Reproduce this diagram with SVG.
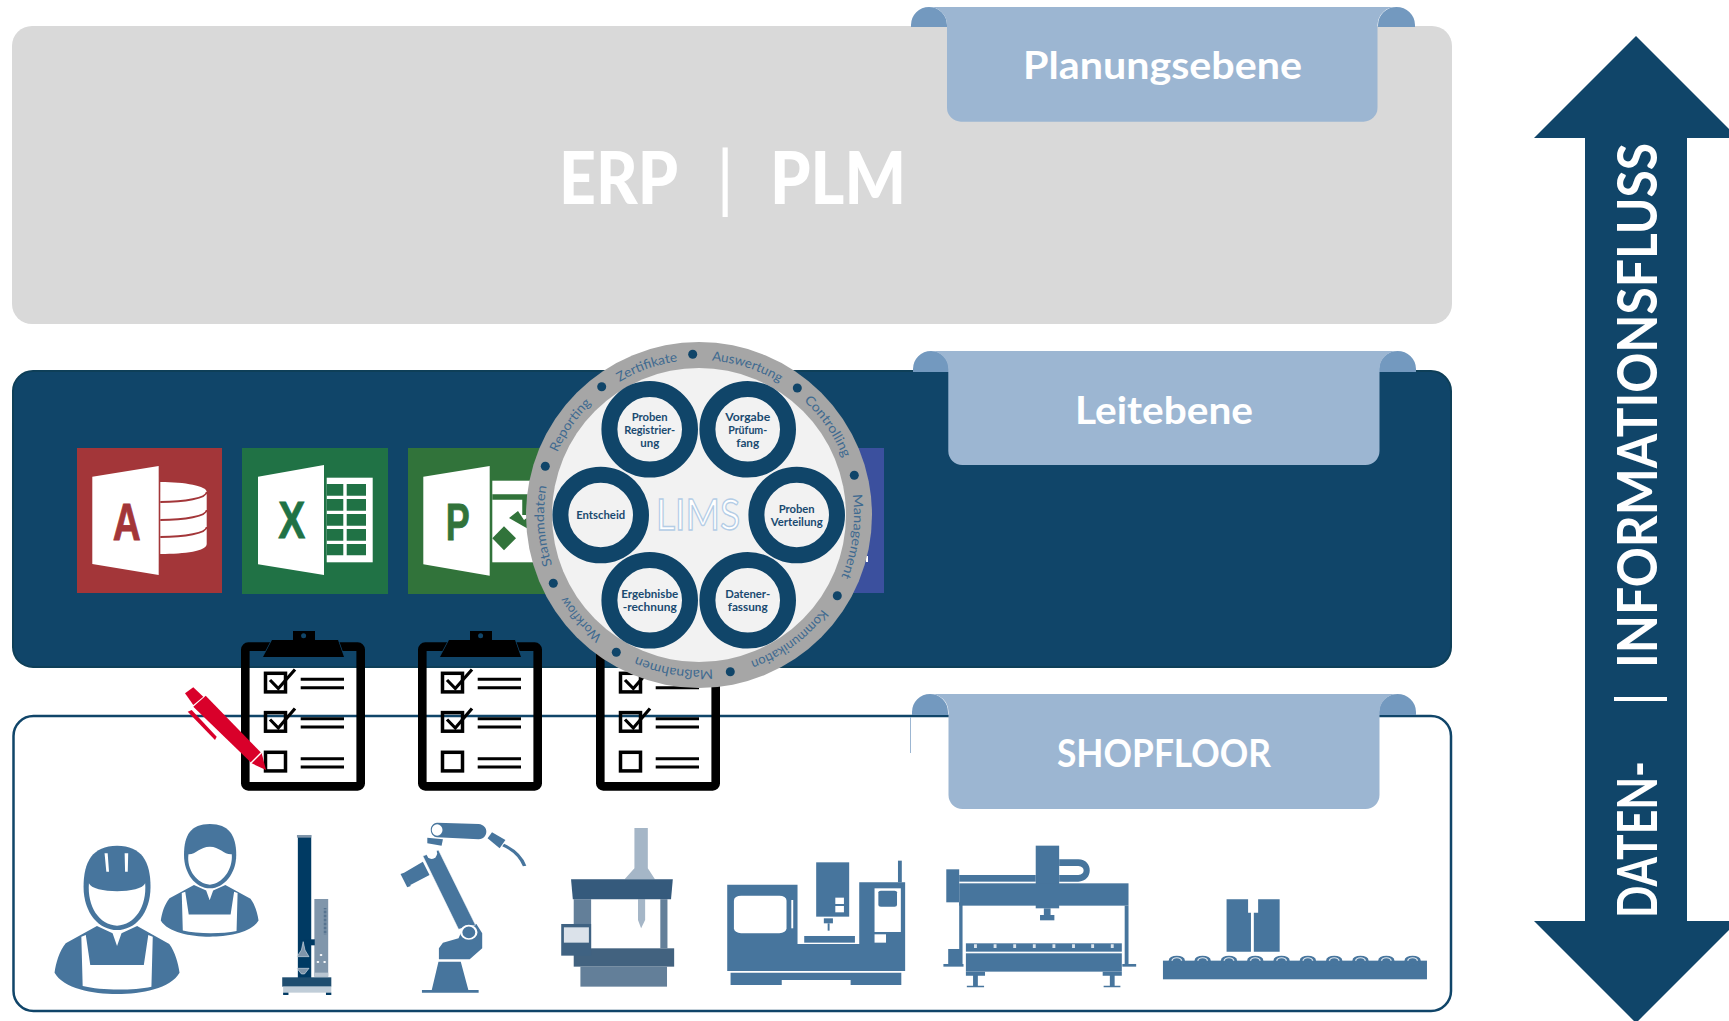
<svg xmlns="http://www.w3.org/2000/svg" xmlns:xlink="http://www.w3.org/1999/xlink" width="1729" height="1021" viewBox="0 0 1729 1021">
<style>
text{font-family:"Lato","Liberation Sans",sans-serif}
.ban{fill:#9cb6d2}.ear{fill:#7399bf}
.bt{fill:#fff;font-weight:700;font-size:38px;text-anchor:middle}
.ic{fill:#47759d}.w{fill:#fff}
.hub{fill:#f2f2f2;stroke:#104569;stroke-width:16}
.hl{fill:#1a4a70;font-weight:700;font-size:10.5px;text-anchor:middle}
.rl{fill:#3f6a90;font-size:13px;text-anchor:middle}
.dot{fill:#104569}
.lg{font-family:"Liberation Sans",sans-serif;font-weight:700;font-size:52px;text-anchor:middle;stroke-width:.8}
.bk{fill:none;stroke:#000;stroke-width:3.5}
.ck{fill:none;stroke:#000;stroke-width:3.2}
.ln{stroke:#000;stroke-width:3}
</style>
<defs>
<path id="rp" d="M699,360 A155,155 0 1 1 698.99,360 Z"/>
<path id="wbody" d="M150,378 L80,430 C65,455 58,490 55,518 C75,565 140,582 195,582 C250,582 315,565 335,518 C332,490 325,455 312,432 L240,378 L205,400 L195,438 L185,400 Z M115,410 L125,405 L135,495 L255,495 L265,405 L275,410 L272,560 C230,572 160,572 118,558 Z" fill-rule="evenodd"/>
<g id="bump"><ellipse cx="0" cy="482" rx="17" ry="15"/><path d="M-10,482 a10,9 0 0 1 20,0" fill="none" stroke="#dbe4ec" stroke-width="3"/></g>
<g id="clip">
<rect x="245.3" y="646.6" width="115.4" height="139.8" rx="3" fill="none" stroke="#000" stroke-width="8.6"/>
<path d="M263,657 L272,640 L293,640 L293,631 L315,631 L315,640 L338,640 L344,657 Z" fill="#000" stroke="#104569" stroke-width="1.5" stroke-linejoin="round"/>
<path d="M263,657 L272,640 L293,640 L293,631 L315,631 L315,640 L338,640 L344,657 Z" fill="#000"/>
<circle cx="303.6" cy="635.7" r="2.5" fill="#104569"/>
<rect class="bk" x="265.5" y="673.3" width="20" height="18.6"/>
<path class="ck" d="M270,680 L278.3,688.5 L295,669.5"/>
<path class="ln" d="M300.7,679.3H344M300.7,687.7H344"/>
<rect class="bk" x="265.5" y="712.6" width="20" height="18.6"/>
<path class="ck" d="M270,719.5 L278.3,728 L295,708.5"/>
<path class="ln" d="M300.7,718.7H344M300.7,727H344"/>
<rect class="bk" x="265.5" y="752.3" width="20" height="18.6"/>
<path class="ln" d="M300.7,758.7H344M300.7,767H344"/>
</g>
</defs>

<g id="planungsebene">
<rect x="12" y="26" width="1440" height="298" rx="20" fill="#d9d9d9"/>
<text y="204" fill="#fff" font-size="73" font-weight="900"><tspan x="559" textLength="119" lengthAdjust="spacingAndGlyphs">ERP</tspan><tspan x="716" font-weight="400">|</tspan><tspan x="770" textLength="136" lengthAdjust="spacingAndGlyphs">PLM</tspan></text>
<path class="ear" d="M911,27 V25 A18,18 0 0 1 947,25 V27 Z M1378,27 V25 A18.500,18 0 0 1 1415,25 V27 Z"/>
<path class="ban" d="M929,7 H1397 A18.500,18 0 0 0 1377.500,25 V107.700 A14,14 0 0 1 1363.500,121.700 H961 A14,14 0 0 1 947,107.700 V25 A18,18 0 0 0 929,7 Z"/>
<text class="bt" x="1162.500" y="79" textLength="279" lengthAdjust="spacingAndGlyphs">Planungsebene</text>
</g>

<g id="leitebene">
<rect x="13" y="371" width="1438" height="296" rx="20" fill="#104569" stroke="#0e3f58" stroke-width="2"/>
<path class="ear" d="M913,372 V369 A18,18 0 0 1 949,369 V372 Z M1379,372 V369 A18.500,18 0 0 1 1416,369 V372 Z"/>
<path class="ban" d="M931,351 H1398 A18.500,18 0 0 0 1379.500,369 V451 A14,14 0 0 1 1365.500,465 H962.300 A14,14 0 0 1 948.300,451 V369 A18,18 0 0 0 931,351 Z"/>
<text class="bt" x="1164" y="423.500" textLength="178" lengthAdjust="spacingAndGlyphs">Leitebene</text>
</g>

<g id="shopfloor">
<rect x="13.500" y="716" width="1437.500" height="295" rx="20" fill="#fff" stroke="#104569" stroke-width="2.500"/>
<path d="M910.500,717V753" stroke="#9cb6d2" stroke-width="1" fill="none"/>
<path class="ear" d="M912,715 V712 A18,18 0 0 1 948,712 V715 Z M1379,715 V712 A18.500,18 0 0 1 1416,712 V715 Z"/>
<path class="ban" d="M930,694 H1398 A18.500,18 0 0 0 1379.500,712 V795 A14,14 0 0 1 1365.500,809 H962.500 A14,14 0 0 1 948.500,795 V712 A18,18 0 0 0 930,694 Z"/>
<text class="bt" x="1164" y="767" textLength="214" lengthAdjust="spacingAndGlyphs">SHOPFLOOR</text>
</g>

<g id="app-access">
<rect x="77" y="448" width="145" height="145" fill="#a33639"/>
<path class="w" d="M92.300,476.700 L158.700,466 V575 L92.300,564 Z"/>
<text class="lg" x="126.700" y="540" fill="#a33639" stroke="#a33639" textLength="28" lengthAdjust="spacingAndGlyphs">A</text>
<path class="w" d="M160.300,482 C185,482 206.700,486 206.700,492 V544 C206.700,551 185,554 160.300,554 Z"/>
<path d="M160.300,502 C185,502 206.700,498 206.700,492 M160.300,520 C185,520 206.700,516 206.700,510 M160.300,537 C185,537 206.700,533 206.700,527" fill="none" stroke="#a33639" stroke-width="1.800"/>
</g>

<g id="app-excel">
<rect x="242" y="448" width="146" height="146" fill="#207245"/>
<path class="w" d="M258,476.700 L324,465 V575 L258,564.300 Z"/>
<text class="lg" x="291.700" y="538" fill="#207245" stroke="#207245" textLength="27" lengthAdjust="spacingAndGlyphs">X</text>
<rect class="w" x="326.700" y="477.700" width="46" height="84.600"/>
<path fill="#207245" d="M326.700,484H343.300V495.700H326.700ZM346.700,484H366V495.700H346.700ZM326.700,499H343.300V510.700H326.700ZM346.700,499H366V510.700H346.700ZM326.700,514H343.300V525.700H326.700ZM346.700,514H366V525.700H346.700ZM326.700,529H343.300V540.700H326.700ZM346.700,529H366V540.700H346.700ZM326.700,544H343.300V555.300H326.700ZM346.700,544H366V555.300H346.700Z"/>
</g>

<g id="app-project">
<rect x="408" y="448" width="146" height="146" fill="#31733a"/>
<path class="w" d="M423.300,476.700 L489.700,466 V575.700 L423.300,564.300 Z"/>
<text class="lg" x="457.700" y="540" fill="#31733a" stroke="#31733a" textLength="24" lengthAdjust="spacingAndGlyphs">P</text>
<rect class="w" x="492.300" y="480.700" width="50" height="81.600"/>
<path d="M492.300,497H525V515" fill="none" stroke="#31733a" stroke-width="5.500"/>
<path d="M509,518 L518,511 L524,520 L532,514 L530,530 Z" fill="#31733a"/>
<path d="M504,526.300 L516,538.300 L504,550.300 L492.300,538.300 Z" fill="#31733a"/>
</g>

<g id="app-word">
<rect x="738" y="448" width="146" height="145" fill="#3b509e"/>
<rect class="w" x="866" y="556" width="2" height="6"/>
</g>

<g id="clipboards">
<use xlink:href="#clip"/>
<use xlink:href="#clip" x="177"/>
<use xlink:href="#clip" x="355"/>
</g>

<g id="pen" fill="#d9002a">
<path d="M205.700,695.700 L261.700,753.300 L266,770 L251.700,763.300 L193.300,706.700 Z"/>
<path d="M185,693.300 L193.300,687.300 L203.300,696.700 L193.300,705 Z"/>
<path d="M187.700,711.700 L191.700,710 L216.700,736.700 L215,740 Z"/>
<path d="M262,752 L251,763" stroke="#fff" stroke-width="1.500" fill="none"/>
</g>

<g id="lims">
<circle cx="699" cy="515" r="173" fill="#a6a6a6"/>
<circle cx="699" cy="515" r="147" fill="#f2f2f2"/>
<g class="dot-ring">
<circle class="dot" cx="692.700" cy="354.300" r="4.500"/>
<circle class="dot" cx="797.300" cy="388" r="4.500"/>
<circle class="dot" cx="854.300" cy="475.300" r="4.500"/>
<circle class="dot" cx="837.300" cy="595.700" r="4.500"/>
<circle class="dot" cx="730.300" cy="671.700" r="4.500"/>
<circle class="dot" cx="616.300" cy="652.300" r="4.500"/>
<circle class="dot" cx="553.300" cy="583.300" r="4.500"/>
<circle class="dot" cx="545.300" cy="466.300" r="4.500"/>
<circle class="dot" cx="601.700" cy="386.700" r="4.500"/>
</g>
<text class="rl"><textPath xlink:href="#rp" startOffset="94.600%" textLength="62" lengthAdjust="spacingAndGlyphs">Zertifikate</textPath></text>
<text class="rl"><textPath xlink:href="#rp" startOffset="5%" textLength="72" lengthAdjust="spacingAndGlyphs">Auswertung</textPath></text>
<text class="rl"><textPath xlink:href="#rp" startOffset="15.400%" textLength="70" lengthAdjust="spacingAndGlyphs">Controlling</textPath></text>
<text class="rl"><textPath xlink:href="#rp" startOffset="27.200%" textLength="84" lengthAdjust="spacingAndGlyphs">Management</textPath></text>
<text class="rl"><textPath xlink:href="#rp" startOffset="40%" textLength="90" lengthAdjust="spacingAndGlyphs">Kommunikation</textPath></text>
<text class="rl"><textPath xlink:href="#rp" startOffset="52.600%" textLength="78" lengthAdjust="spacingAndGlyphs">Maßnahmen</textPath></text>
<text class="rl"><textPath xlink:href="#rp" startOffset="63.500%" textLength="54" lengthAdjust="spacingAndGlyphs">Workflow</textPath></text>
<text class="rl"><textPath xlink:href="#rp" startOffset="73.900%" textLength="80" lengthAdjust="spacingAndGlyphs">Stammdaten</textPath></text>
<text class="rl"><textPath xlink:href="#rp" startOffset="84.700%" textLength="60" lengthAdjust="spacingAndGlyphs">Reporting</textPath></text>
<text x="698" y="530" font-size="43" text-anchor="middle" textLength="84" lengthAdjust="spacingAndGlyphs" fill="#fff" stroke="#b4cde6" stroke-width="1.400">LIMS</text>
<circle class="hub" cx="649.700" cy="429.300" r="40.300"/>
<circle class="hub" cx="747.700" cy="429.300" r="40.300"/>
<circle class="hub" cx="796.700" cy="515" r="40.300"/>
<circle class="hub" cx="747.700" cy="600.300" r="40.300"/>
<circle class="hub" cx="649.700" cy="600.300" r="40.300"/>
<circle class="hub" cx="600.700" cy="515" r="40.300"/>
<g lengthAdjust="spacingAndGlyphs">
<text class="hl" x="649.700" y="421" textLength="36" lengthAdjust="spacingAndGlyphs">Proben</text><text class="hl" x="649.700" y="434" textLength="51" lengthAdjust="spacingAndGlyphs">Registrier-</text><text class="hl" x="649.700" y="447" textLength="19" lengthAdjust="spacingAndGlyphs">ung</text>
<text class="hl" x="747.700" y="421" textLength="45" lengthAdjust="spacingAndGlyphs">Vorgabe</text><text class="hl" x="747.700" y="434" textLength="39" lengthAdjust="spacingAndGlyphs">Prüfum-</text><text class="hl" x="747.700" y="447" textLength="23" lengthAdjust="spacingAndGlyphs">fang</text>
<text class="hl" x="796.700" y="513" textLength="36" lengthAdjust="spacingAndGlyphs">Proben</text><text class="hl" x="796.700" y="526" textLength="52" lengthAdjust="spacingAndGlyphs">Verteilung</text>
<text class="hl" x="747.700" y="598" textLength="45" lengthAdjust="spacingAndGlyphs">Datener-</text><text class="hl" x="747.700" y="611" textLength="40" lengthAdjust="spacingAndGlyphs">fassung</text>
<text class="hl" x="649.700" y="598" textLength="57" lengthAdjust="spacingAndGlyphs">Ergebnisbe</text><text class="hl" x="649.700" y="611" textLength="54" lengthAdjust="spacingAndGlyphs">-rechnung</text>
<text class="hl" x="600.700" y="519" textLength="49" lengthAdjust="spacingAndGlyphs">Entscheid</text>
</g>
</g>

<g id="icons-left" transform="translate(30,800) scale(0.4464,0.3333)">
<g id="worker-1" class="ic">
<path d="M195,137 C250,137 270,185 270,260 C270,340 235,390 195,390 C155,390 120,340 120,260 C120,185 140,137 195,137 Z"/>
<path class="w" d="M132,250 C140,282 250,282 258,250 C262,320 235,375 195,377 C155,375 128,320 132,250 Z"/>
<path class="w" d="M167,160 L174,160 L177,215 L171,215 Z M212,160 L220,160 L219,215 L213,215 Z"/>
<use xlink:href="#wbody"/>
</g>
<g id="worker-2" class="ic">
<path d="M403,72 C445,72 462,105 462,165 C462,220 435,265 403,265 C370,265 345,220 345,165 C345,105 360,72 403,72 Z"/>
<path class="w" d="M355,163 C370,165 380,140 403,140 C425,140 435,165 452,163 C455,210 430,252 403,254 C375,252 350,210 355,163 Z"/>
<use xlink:href="#wbody" transform="translate(250,-32.300) scale(0.782,0.76)"/>
</g>
<g id="tester">
<rect x="600" y="105" width="30" height="445" fill="#003a63"/>
<rect x="598" y="105" width="32" height="8" fill="#7f95aa"/>
<rect x="637" y="297" width="31" height="233" fill="#8096ab"/>
<path d="M661,325V405" stroke="#4a6a88" stroke-width="6" stroke-dasharray="2 2"/>
<rect x="612" y="418" width="26" height="18" fill="#003a63"/>
<path d="M598,470 L608,450 L612,425 L616,450 L625,470 Z M598,505 H625 L615,522 H608 Z" fill="#7f95aa" stroke="#dfe6ec" stroke-width="1.500"/>
<circle cx="652" cy="465" r="3" fill="#fff"/><circle cx="645" cy="486" r="3" fill="#fff"/><circle cx="660" cy="486" r="3" fill="#fff"/>
<rect x="637" y="518" width="31" height="12" fill="#b9c6d2"/>
<rect x="565" y="532" width="110" height="28" fill="#1f4e70"/>
<rect x="567" y="560" width="108" height="18" fill="#c0cdd8"/>
<rect x="567" y="578" width="12" height="7" fill="#003a63"/><rect x="663" y="578" width="12" height="7" fill="#003a63"/>
</g>
<g id="robot" class="ic">
<path d="M915,485 L965,485 L982,570 L1005,570 L1005,578 L878,578 L878,570 L900,570 Z"/>
<path d="M916,478 L916,445 L925,428 L960,415 L975,370 L1000,372 L1013,400 L1013,445 L985,478 Z"/>
<path d="M880,168 L915,150 L998,375 L960,388 Z" stroke="#fff" stroke-width="1.500"/>
<ellipse cx="983" cy="397" rx="17" ry="20" stroke="#fff" stroke-width="5"/>
<ellipse cx="900" cy="160" rx="12" ry="17" class="w"/>
<path d="M838,218 L880,185 L895,225 L852,255 Z M830,222 L838,218 L853,258 L845,262 Z"/>
<path d="M890,113 L925,118 L922,137 L890,130 Z"/>
<path d="M912,68 L1005,72 C1028,75 1028,115 1005,118 L912,112 C893,108 893,70 912,68 Z"/>
<ellipse cx="912" cy="90" rx="12" ry="17" class="w"/>
<path d="M1025,115 L1035,97 L1065,120 L1052,145 Z"/>
<path d="M1060,135 C1085,150 1100,170 1108,198" fill="none" stroke="#47759d" stroke-width="8"/>
</g>
<g id="press">
<path d="M1354,84 H1384 V205 L1400,238 H1332 L1354,205 Z" fill="#a5b6c7"/>
<path d="M1218,298H1257V445H1218ZM1412,298H1428V445H1412Z" fill="#637f99"/>
<path d="M1362,298H1378V360L1369,385L1362,360Z" fill="#a5b6c7"/>
<path d="M1212,238 H1440 L1436,298 H1216 Z" fill="#355a7c"/>
<rect x="1218" y="445" width="225" height="55" fill="#42627f"/>
<rect x="1233" y="500" width="194" height="60" fill="#637f99"/>
<rect x="1190" y="372" width="67" height="95" fill="#3f6282"/>
<rect x="1196" y="382" width="56" height="46" fill="#dbe2ea"/>
</g>
</g>

<g id="icons-right" transform="translate(710,800) scale(0.4783,0.3333)">
<g id="cnc" class="ic">
<path d="M36,254 H183 V432 H312 V247 H408 V513 H36 Z"/>
<rect class="w" x="50" y="287" width="110" height="113" rx="15"/>
<rect class="w" x="170" y="300" width="4" height="85"/>
<rect x="222" y="187" width="69" height="163"/>
<rect class="w" x="262" y="293" width="18" height="19"/><rect class="w" x="262" y="318" width="18" height="19"/>
<rect x="238" y="355" width="19" height="15"/><rect x="246" y="370" width="4" height="22"/>
<rect x="197" y="408" width="106" height="20"/>
<rect class="w" x="344" y="265" width="55" height="131"/>
<rect x="352" y="272" width="39" height="48" rx="5"/>
<rect class="w" x="344" y="403" width="24" height="25"/>
<rect x="393" y="182" width="8" height="65"/>
<path d="M43,518 H400 V555 H294 V540 H150 V555 H43 Z"/>
</g>
<g id="gantry" class="ic">
<rect x="681" y="137" width="49" height="188"/>
<path fill-rule="evenodd" d="M730,178 H770 C802,178 802,245 770,245 H730 Z M730,198 V225 H770 C785,225 785,198 770,198 Z"/>
<rect x="521" y="225" width="160" height="20"/>
<rect x="494" y="208" width="27" height="99"/>
<rect x="521" y="250" width="354" height="67"/>
<rect x="698" y="325" width="14" height="20"/><rect x="690" y="345" width="30" height="16"/>
<rect x="521" y="307" width="7" height="140"/><rect x="867" y="317" width="8" height="175"/>
<rect x="498" y="447" width="30" height="45"/>
<rect x="488" y="492" width="42" height="8"/><rect x="862" y="492" width="29" height="8"/>
<rect x="535" y="430" width="326" height="25"/>
<rect x="535" y="460" width="326" height="55"/>
<path d="M555,433V444M596,433V444M637,433V444M678,433V444M719,433V444M760,433V444M800,433V444M841,433V444" stroke="#dbe4ec" stroke-width="6"/>
<path d="M535,515H575V527H560V557H573V562H537V557H550V527H535Z"/>
<path d="M821,515H861V527H846V557H858V562H823V557H836V527H821Z"/>
</g>
<g id="conveyor" class="ic">
<rect x="947" y="482" width="552" height="56"/>
<use xlink:href="#bump" x="976"/><use xlink:href="#bump" x="1030"/><use xlink:href="#bump" x="1085"/><use xlink:href="#bump" x="1140"/><use xlink:href="#bump" x="1195"/><use xlink:href="#bump" x="1250"/><use xlink:href="#bump" x="1305"/><use xlink:href="#bump" x="1360"/><use xlink:href="#bump" x="1414"/><use xlink:href="#bump" x="1469"/>
<path d="M1080,298 H1125 V338 H1131 V455 H1080 Z M1146,298 H1191 V455 H1137 V338 H1146 Z"/>
</g>
</g>

<g id="arrow">
<path fill="#104569" d="M1636,36 L1738,138 H1687 V921 H1738 L1636,1023 L1534,921 H1585 V138 H1534 Z"/>
<text transform="translate(1657,918) rotate(-90)" fill="#fff" font-size="56" font-weight="700"><tspan x="0" textLength="157" lengthAdjust="spacingAndGlyphs">DATEN-</tspan><tspan x="212" font-weight="400">|</tspan><tspan x="250" textLength="525" lengthAdjust="spacingAndGlyphs">INFORMATIONSFLUSS</tspan></text>
</g>
</svg>
